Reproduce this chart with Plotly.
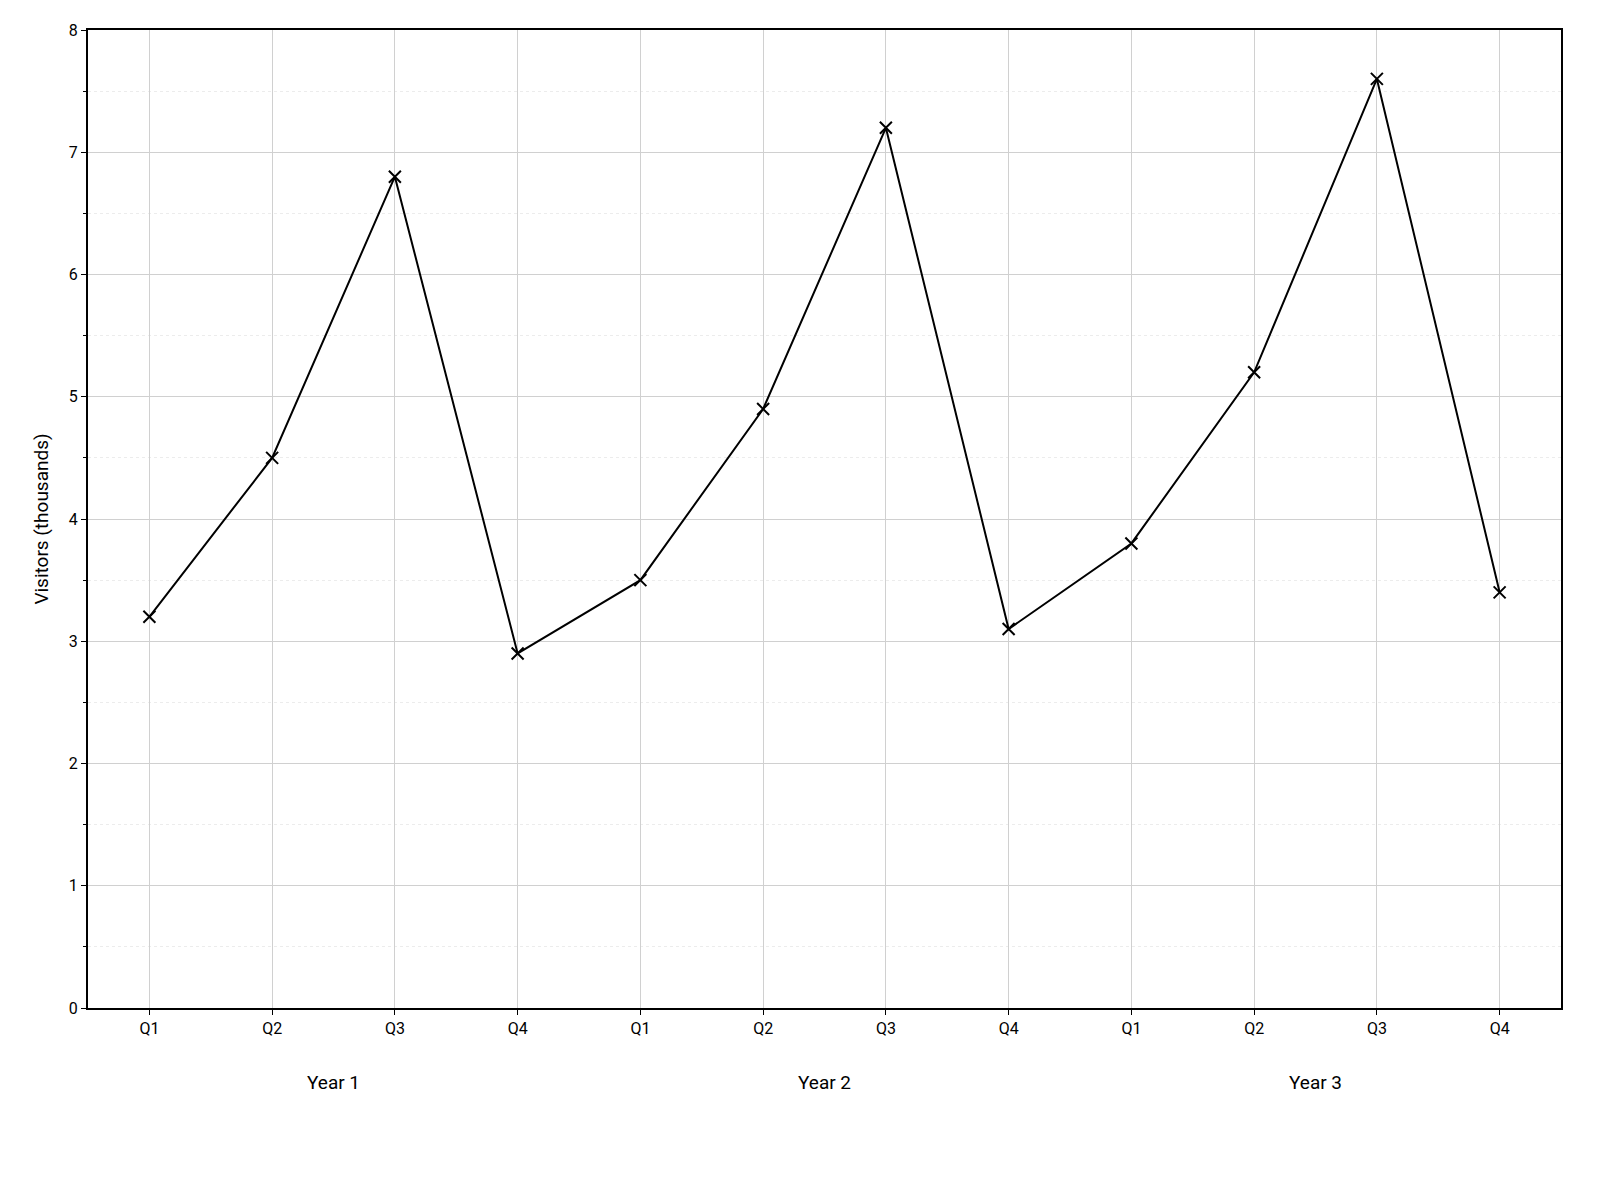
import plotly.graph_objects as go

quarters = ["Q1", "Q2", "Q3", "Q4"] * 3
years = ["Year 1", "Year 2", "Year 3"]
visitors = [3.2, 4.5, 6.8, 2.9, 3.5, 4.9, 7.2, 3.1, 3.8, 5.2, 7.6, 3.4]
xpos = list(range(len(visitors)))

fig = go.Figure(go.Scatter(
    x=xpos, y=visitors, mode="lines+markers",
    line=dict(color="black", width=2),
    marker=dict(symbol="x-thin", size=12, line=dict(color="black", width=2)),
    showlegend=False))

for i, yr in enumerate(years):
    fig.add_annotation(x=i * 4 + 1.5, y=0, xref="x", yref="paper", yshift=-88,
                       text=yr, showarrow=False, font=dict(size=19, color="black"))

fig.update_xaxes(range=[-0.5, 11.5], tickvals=xpos, ticktext=quarters,
                 showgrid=True, gridcolor="#d0d0d0", showline=True, linecolor="black",
                 linewidth=2, mirror=True, ticks="outside", ticklen=5, tickcolor="black",
                 tickfont=dict(size=16, color="black"), zeroline=False)
fig.update_yaxes(range=[0, 8], dtick=1, showgrid=True, gridcolor="#d0d0d0",
                 showline=True, linecolor="black", linewidth=2, mirror=True,
                 ticks="outside", ticklen=5, tickcolor="black",
                 tickfont=dict(size=16, color="black"), zeroline=False,
                 title=dict(text="Visitors (thousands)", font=dict(size=19, color="black")),
                 minor=dict(dtick=0.5, showgrid=True, gridcolor="#ececec", griddash="dot",
                            ticks="outside", ticklen=3, tickcolor="black"))
fig.update_layout(width=1600, height=1200, plot_bgcolor="white", paper_bgcolor="white",
                  font=dict(family="Roboto", color="black"),
                  margin=dict(l=80, r=47, t=22, b=200))
fig.write_html("out.html")
